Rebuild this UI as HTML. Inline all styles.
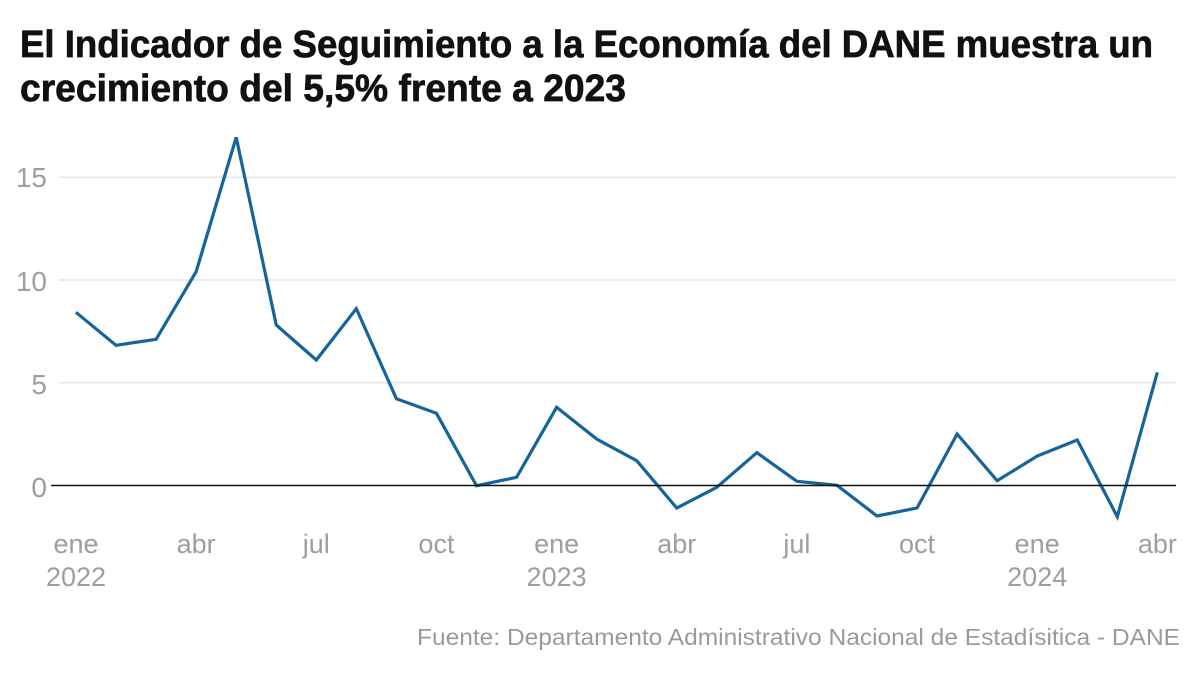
<!DOCTYPE html>
<html>
<head>
<meta charset="utf-8">
<style>
  html, body { margin: 0; padding: 0; background: #ffffff; }
  body { width: 1200px; height: 673px; overflow: hidden; }
  svg { display: block; }
  .t { font-family: "Liberation Sans", Arial, sans-serif; font-weight: 700; fill: #111111; stroke: #111111; stroke-width: 0.7px; font-size: 38px; }
  .ax { font-family: "Liberation Sans", Arial, sans-serif; fill: #9e9e9e; font-size: 28px; }
  .xl { font-family: "Liberation Sans", Arial, sans-serif; fill: #9e9e9e; font-size: 27px; }
  .src { font-family: "Liberation Sans", Arial, sans-serif; fill: #9a9a9a; font-size: 23px; }
</style>
</head>
<body>
<svg width="1200" height="673" viewBox="0 0 1200 673" xmlns="http://www.w3.org/2000/svg">
  <rect width="1200" height="673" fill="#ffffff"/>

  <!-- Title -->
  <text class="t" x="20" y="57" textLength="1133" lengthAdjust="spacingAndGlyphs">El Indicador de Seguimiento a la Economía del DANE muestra un</text>
  <text class="t" x="20" y="101" textLength="606" lengthAdjust="spacingAndGlyphs">crecimiento del 5,5% frente a 2023</text>

  <!-- Gridlines -->
  <g stroke="#e6e6e6" stroke-width="1.5">
    <line x1="59" y1="177.3" x2="1176" y2="177.3"/>
    <line x1="59" y1="280" x2="1176" y2="280"/>
    <line x1="59" y1="382.7" x2="1176" y2="382.7"/>
  </g>

  <!-- Y labels -->
  <g class="ax" text-anchor="end">
    <text x="47" y="187">15</text>
    <text x="47" y="291">10</text>
    <text x="47" y="394">5</text>
    <text x="47" y="497">0</text>
  </g>

  <!-- Series -->
  <polyline fill="none" stroke="#15649a" stroke-width="3.2" stroke-linejoin="miter" stroke-linecap="butt"
    points="
    76,312.3
    116.05,345.3
    156.1,339.3
    196.15,271.7
    236.2,137.3
    276.25,325
    316.3,360
    356.35,308.7
    396.4,398.7
    436.45,413.3
    476.5,485.7
    516.55,477.3
    556.6,407.3
    596.65,439
    636.7,460.7
    676.75,508
    716.8,487.3
    756.85,452.7
    796.9,481.3
    836.95,485.3
    877,516
    917.05,508
    957.1,434
    997.15,480.7
    1037.2,456
    1077.25,440
    1117.3,516.7
    1157.35,372.3"/>

  <!-- Zero line -->
  <line x1="51" y1="485.5" x2="1176" y2="485.5" stroke="#111111" stroke-width="1.5"/>

  <!-- X labels -->
  <g class="xl" text-anchor="middle">
    <text x="76" y="553">ene</text>
    <text x="76" y="586">2022</text>
    <text x="196.15" y="553">abr</text>
    <text x="316.3" y="553">jul</text>
    <text x="436.45" y="553">oct</text>
    <text x="556.6" y="553">ene</text>
    <text x="556.6" y="586">2023</text>
    <text x="676.75" y="553">abr</text>
    <text x="796.9" y="553">jul</text>
    <text x="917.05" y="553">oct</text>
    <text x="1037.2" y="553">ene</text>
    <text x="1037.2" y="586">2024</text>
    <text x="1157.35" y="553">abr</text>
  </g>

  <!-- Source -->
  <text class="src" x="417" y="645" textLength="763" lengthAdjust="spacingAndGlyphs">Fuente: Departamento Administrativo Nacional de Estadísitica - DANE</text>
</svg>
</body>
</html>
